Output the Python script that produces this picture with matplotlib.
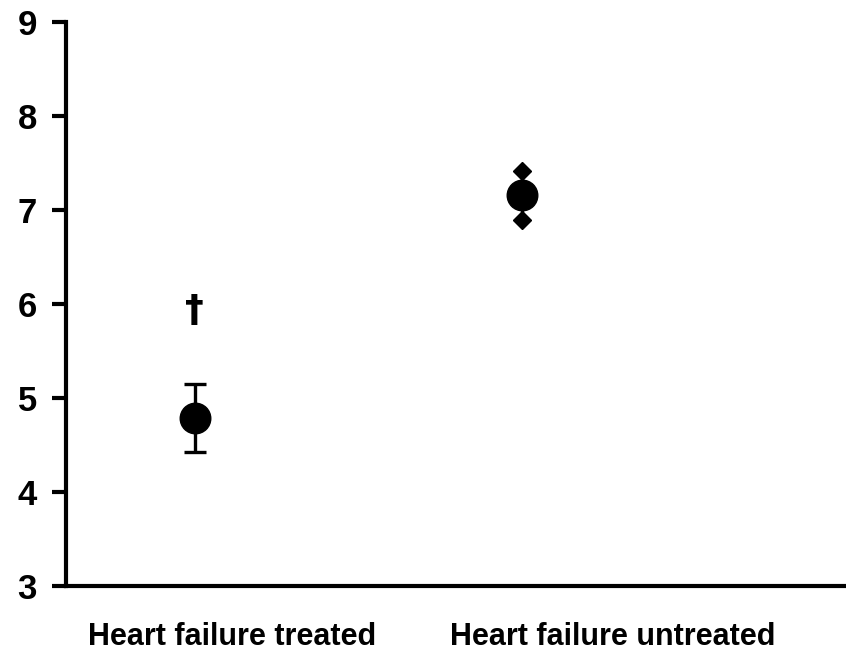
import numpy as np
import matplotlib.pyplot as plt

plt.rcParams['font.family'] = ['Liberation Sans', 'DejaVu Sans']
plt.rcParams['font.weight'] = 'bold'

groups = ['Heart failure treated', 'Heart failure untreated']
means = [4.79, 7.16]
errs = [0.36, 0.26]
point_x = [0.165, 0.585]
label_x = [0.213, 0.701]
dagger_y = 5.93

fig = plt.figure(figsize=(8.46, 6.52), dpi=100)
ax = fig.add_axes([0.078, 0.101, 0.922, 0.865])

# treated
ax.errorbar(point_x[0], means[0], yerr=errs[0], fmt='o', color='black',
            markersize=22, elinewidth=2.4, capsize=8, capthick=2.4)
# untreated, caps look like small blobs
ax.errorbar(point_x[1], means[1], yerr=errs[1], fmt='o', color='black',
            markersize=22, elinewidth=2.4, capsize=0)
ax.plot([point_x[1]] * 2, [means[1] - errs[1], means[1] + errs[1]], 'D',
        color='black', markersize=9)

ax.text(point_x[0], dagger_y, '\u2020', ha='center', va='center',
        fontsize=27, fontweight='bold', family=['DejaVu Sans'])

ax.set_xlim(0, 1)
ax.set_ylim(3, 9)
ax.set_yticks(np.arange(3, 10))
ax.set_xticks(label_x)
ax.set_xticklabels(groups, fontsize=22)
ax.tick_params(axis='x', length=0, pad=26)
ax.tick_params(axis='y', length=10, width=3, labelsize=25, pad=11)
ax.spines['top'].set_visible(False)
ax.spines['right'].set_visible(False)
ax.spines['left'].set_linewidth(3)
ax.spines['bottom'].set_linewidth(3)

fig.savefig('out.png', dpi=100)
